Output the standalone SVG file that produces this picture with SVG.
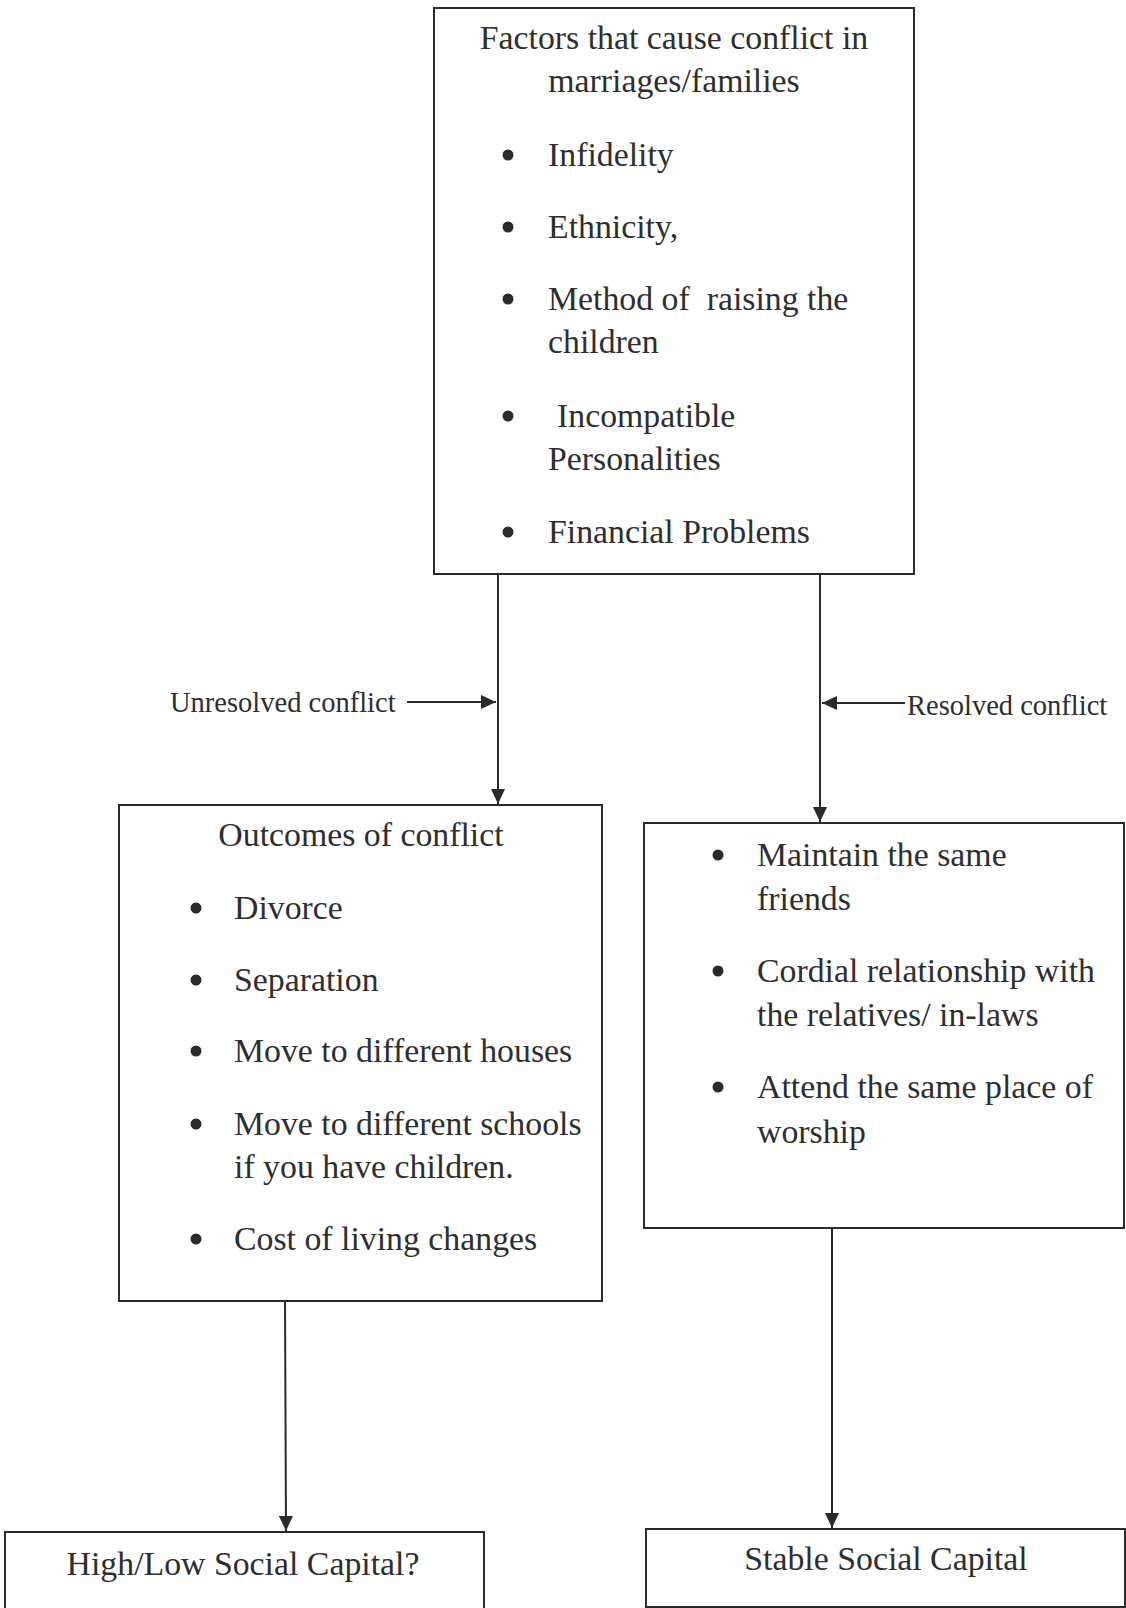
<svg xmlns="http://www.w3.org/2000/svg" width="1126" height="1608" viewBox="0 0 1126 1608">
<style>
.box{fill:#fff;stroke:#2b2b2b;stroke-width:2}
.t{font-family:"Liberation Serif","Times New Roman",serif;font-size:33.8px;fill:#2e2e2e}
.c{text-anchor:middle}
.s{font-size:28.5px}
.b{fill:#2b2b2b}
.ln{stroke:#2b2b2b;stroke-width:2;fill:none}
</style>
<defs>
<marker id="ah" markerUnits="userSpaceOnUse" markerWidth="16" markerHeight="14" refX="15" refY="7" orient="auto">
<path d="M0,0 L15,7 L0,14 Z" fill="#2b2b2b"/>
</marker>
</defs>
<rect width="1126" height="1608" fill="#fff"/>
<g id="connectors">
<line class="ln" x1="498" y1="574" x2="498" y2="804" marker-end="url(#ah)"/>
<line class="ln" x1="820" y1="574" x2="820" y2="822" marker-end="url(#ah)"/>
<line class="ln" x1="407" y1="702" x2="496" y2="702" marker-end="url(#ah)"/>
<line class="ln" x1="905" y1="703" x2="822" y2="703" marker-end="url(#ah)"/>
<line class="ln" x1="285" y1="1301" x2="286" y2="1531" marker-end="url(#ah)"/>
<line class="ln" x1="832" y1="1228" x2="832" y2="1528" marker-end="url(#ah)"/>
<text class="t s" x="170" y="712">Unresolved conflict</text>
<text class="t s" x="907" y="715">Resolved conflict</text>
</g>
<g id="factors">
<rect class="box" x="434" y="8" width="480" height="566"/>
<text class="t c" x="674" y="49">Factors that cause conflict in</text>
<text class="t c" x="674" y="92">marriages/families</text>
<circle class="b" cx="508" cy="155" r="5.5"/>
<text class="t" x="548" y="166">Infidelity</text>
<circle class="b" cx="508" cy="227" r="5.5"/>
<text class="t" x="548" y="238">Ethnicity,</text>
<circle class="b" cx="508" cy="299" r="5.5"/>
<text class="t" x="548" y="310" xml:space="preserve">Method of  raising the</text>
<text class="t" x="548" y="353">children</text>
<circle class="b" cx="508" cy="416" r="5.5"/>
<text class="t" x="557" y="427">Incompatible</text>
<text class="t" x="548" y="470">Personalities</text>
<circle class="b" cx="508" cy="532" r="5.5"/>
<text class="t" x="548" y="543">Financial Problems</text>
</g>
<g id="outcomes">
<rect class="box" x="119" y="805" width="483" height="496"/>
<text class="t c" x="361" y="846">Outcomes of conflict</text>
<circle class="b" cx="196" cy="908" r="5.5"/>
<text class="t" x="234" y="919">Divorce</text>
<circle class="b" cx="196" cy="980" r="5.5"/>
<text class="t" x="234" y="991">Separation</text>
<circle class="b" cx="196" cy="1051" r="5.5"/>
<text class="t" x="234" y="1062">Move to different houses</text>
<circle class="b" cx="196" cy="1124" r="5.5"/>
<text class="t" x="234" y="1135">Move to different schools</text>
<text class="t" x="234" y="1178">if you have children.</text>
<circle class="b" cx="196" cy="1239" r="5.5"/>
<text class="t" x="234" y="1250">Cost of living changes</text>
</g>
<g id="resolved">
<rect class="box" x="644" y="823" width="480" height="405"/>
<circle class="b" cx="718" cy="855" r="5.5"/>
<text class="t" x="757" y="866">Maintain the same</text>
<text class="t" x="757" y="910">friends</text>
<circle class="b" cx="718" cy="971" r="5.5"/>
<text class="t" x="757" y="982">Cordial relationship with</text>
<text class="t" x="757" y="1026">the relatives/ in-laws</text>
<circle class="b" cx="718" cy="1087" r="5.5"/>
<text class="t" x="757" y="1098">Attend the same place of</text>
<text class="t" x="757" y="1143">worship</text>
</g>
<g id="highlow">
<rect class="box" x="5" y="1532" width="479" height="100"/>
<text class="t c" x="243" y="1575">High/Low Social Capital?</text>
</g>
<g id="stable">
<rect class="box" x="646" y="1529" width="479" height="78"/>
<text class="t c" x="886" y="1570">Stable Social Capital</text>
</g>
</svg>
